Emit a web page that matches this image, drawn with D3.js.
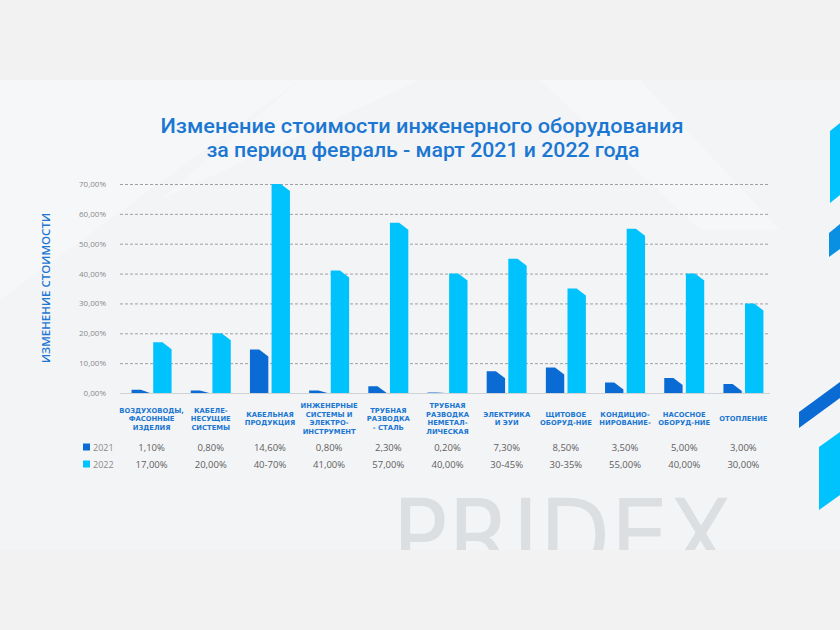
<!DOCTYPE html>
<html>
<head>
<meta charset="utf-8">
<script src="https://cdn.jsdelivr.net/npm/d3@7"></script>
<style>
  html, body { margin: 0; padding: 0; background: #f2f2f2; }
  svg { display: block; }
</style>
</head>
<body>
<svg id="chart" width="840" height="630"></svg>
<script>
// data
var categories = [
    ["ВОЗДУХОВОДЫ,", "ФАСОННЫЕ", "ИЗДЕЛИЯ"],
    ["КАБЕЛЕ-", "НЕСУЩИЕ", "СИСТЕМЫ"],
    ["КАБЕЛЬНАЯ", "ПРОДУКЦИЯ"],
    ["ИНЖЕНЕРНЫЕ", "СИСТЕМЫ И", "ЭЛЕКТРО-", "ИНСТРУМЕНТ"],
    ["ТРУБНАЯ", "РАЗВОДКА", "- СТАЛЬ"],
    ["ТРУБНАЯ", "РАЗВОДКА", "НЕМЕТАЛ-", "ЛИЧЕСКАЯ"],
    ["ЭЛЕКТРИКА", "И ЭУИ"],
    ["ЩИТОВОЕ", "ОБОРУД-НИЕ"],
    ["КОНДИЦИО-", "НИРОВАНИЕ-"],
    ["НАСОСНОЕ", "ОБОРУД-НИЕ"],
    ["ОТОПЛЕНИЕ"]
];
var years = ["2021", "2022"];
var values2021 = [1.1, 0.8, 14.6, 0.8, 2.3, 0.2, 7.3, 8.5, 3.5, 5.0, 3.0];
var values2022 = [17, 20, 70, 41, 57, 40, 45, 35, 55, 40, 30];
var labels2021 = ["1,10%", "0,80%", "14,60%", "0,80%", "2,30%", "0,20%", "7,30%", "8,50%", "3,50%", "5,00%", "3,00%"];
var labels2022 = ["17,00%", "20,00%", "40-70%", "41,00%", "57,00%", "40,00%", "30-45%", "30-35%", "55,00%", "40,00%", "30,00%"];
var yTicks = [0, 10, 20, 30, 40, 50, 60, 70];

var colors = { "2021": "#0a6bd4", "2022": "#00c3fd" };
var blue = "#1b77d2";

var svg = d3.select("#chart");

// background: page strip, slide, bottom strip
svg.append("rect").attr("width", 840).attr("height", 630).attr("fill", "#f2f2f2");
svg.append("rect").attr("y", 80).attr("width", 840).attr("height", 470).attr("fill", "#f3f4f6");

// faint light facets on the slide
var facets = [
    [[0, 80], [60, 80], [0, 170]],
    [[60, 80], [300, 80], [0, 300], [0, 170]],
    [[300, 80], [420, 80], [160, 200]],
    [[540, 80], [640, 80], [780, 230], [700, 230]]
];
svg.selectAll("polygon.facet")
    .data(facets)
    .enter().append("polygon")
    .attr("class", "facet")
    .attr("points", function(d) { return d.join(" "); })
    .attr("fill", "#ffffff")
    .attr("opacity", 0.25);

// watermark, cut off at the slide edge
svg.append("clipPath").attr("id", "slideClip")
    .append("rect").attr("x", 0).attr("y", 80).attr("width", 840).attr("height", 470);
svg.append("text")
    .attr("clip-path", "url(#slideClip)")
    .attr("x", 392)
    .attr("y", 572)
    .attr("textLength", 340)
    .attr("lengthAdjust", "spacingAndGlyphs")
    .style("font-family", "'DejaVu Sans', sans-serif")
    .style("font-size", "101px")
    .style("fill", "#dcdfe2")
    .text("PRIDEX");

// right side decorations
var decos = [
    { c: "#00c3fd", p: [[830, 131], [840, 123], [840, 195], [830, 203]] },
    { c: "#0a90e2", p: [[829, 233], [840, 224], [840, 249], [829, 257]] },
    { c: "#0a6bd4", p: [[799, 412], [840, 382], [840, 398], [799, 428]] },
    { c: "#00c3fd", p: [[819, 447], [840, 432], [840, 495], [819, 510]] }
];
svg.selectAll("polygon.deco")
    .data(decos)
    .enter().append("polygon")
    .attr("class", "deco")
    .attr("points", function(d) { return d.p.join(" "); })
    .attr("fill", function(d) { return d.c; });

// title
var title = svg.append("text")
    .attr("text-anchor", "middle")
    .style("font-family", "Roboto, sans-serif")
    .style("font-weight", 500)
    .style("font-size", "20px")
    .style("fill", blue);
title.append("tspan").attr("x", 422).attr("y", 133)
    .attr("textLength", 523).attr("lengthAdjust", "spacingAndGlyphs")
    .text("Изменение стоимости инженерного оборудования");
title.append("tspan").attr("x", 423).attr("y", 157)
    .attr("textLength", 433).attr("lengthAdjust", "spacingAndGlyphs")
    .text("за период февраль - март 2021 и 2022 года");

// scales
var x0 = d3.scaleBand()
    .domain(d3.range(categories.length))
    .range([122, 773]);

var groupW = 40;
var x1 = d3.scaleBand()
    .domain(years)
    .range([0, groupW])
    .paddingInner(0.15);

var y = d3.scaleLinear()
    .domain([0, 70])
    .range([393, 184]);

function groupX(i) {
    return x0(i) + (x0.bandwidth() - groupW) / 2;
}

// gridlines + y labels
var grid = svg.append("g");
grid.selectAll("line")
    .data(yTicks)
    .enter().append("line")
    .attr("x1", 120)
    .attr("x2", 770)
    .attr("y1", function(d) { return y(d) + 0.5; })
    .attr("y2", function(d) { return y(d) + 0.5; })
    .style("stroke", function(d) { return d === 0 ? "#cfd2d6" : "#a0a0a0"; })
    .style("stroke-width", 1)
    .style("stroke-dasharray", function(d) { return d === 0 ? null : "3,2"; });

var yAxis = svg.append("g")
    .attr("transform", "translate(106,0)")
    .call(d3.axisLeft(y)
        .tickValues(yTicks)
        .tickSize(0)
        .tickPadding(0)
        .tickFormat(function(d) { return d3.format(".2f")(d).replace(".", ",") + "%"; }));
yAxis.select(".domain").remove();
yAxis.selectAll("text")
    .style("font-family", "'Open Sans', sans-serif")
    .style("font-size", "8px")
    .style("fill", "#8a8a8a");

// y title
svg.append("text")
    .attr("transform", "translate(50,288) rotate(-90)")
    .attr("text-anchor", "middle")
    .attr("textLength", 150)
    .attr("lengthAdjust", "spacingAndGlyphs")
    .style("font-family", "'Open Sans', sans-serif")
    .style("font-weight", 600)
    .style("font-size", "11px")
    .style("fill", blue)
    .text("ИЗМЕНЕНИЕ СТОИМОСТИ");

// bars with a bevelled top-right corner
function barPath(x, w, v) {
    var top = y(v), bottom = y(0);
    var h = bottom - top;
    var cutX = w * 0.5;
    var cutY = Math.min(7, h);
    return "M" + x + "," + bottom +
        "L" + x + "," + top +
        "L" + (x + w - cutX) + "," + top +
        "L" + (x + w) + "," + (top + cutY) +
        "L" + (x + w) + "," + bottom + "Z";
}

var bars = [];
categories.forEach(function(c, i) {
    bars.push({ i: i, year: "2021", v: values2021[i] });
    bars.push({ i: i, year: "2022", v: values2022[i] });
});

svg.append("g").selectAll("path")
    .data(bars)
    .enter().append("path")
    .attr("d", function(d) { return barPath(groupX(d.i) + x1(d.year), x1.bandwidth(), d.v); })
    .attr("fill", function(d) { return colors[d.year]; });

// category labels
var catG = svg.append("g");
categories.forEach(function(lines, i) {
    var cx = x0(i) + x0.bandwidth() / 2;
    var lh = 8.5;
    var startY = 421 - (lines.length - 1) * lh / 2;
    var t = catG.append("text")
        .attr("text-anchor", "middle")
        .style("font-family", "'DejaVu Sans', sans-serif")
        .style("font-weight", "bold")
        .style("font-size", "6.8px")
        .style("fill", blue);
    lines.forEach(function(l, k) {
        t.append("tspan").attr("x", cx).attr("y", startY + k * lh).text(l);
    });
});

// table rows
var rows = [
    { year: "2021", labels: labels2021, y: 451 },
    { year: "2022", labels: labels2022, y: 468 }
];
rows.forEach(function(r) {
    svg.append("rect")
        .attr("x", 83).attr("y", r.y - 7.5)
        .attr("width", 7).attr("height", 7)
        .attr("fill", colors[r.year]);
    svg.append("text")
        .attr("x", 93).attr("y", r.y)
        .style("font-family", "'Open Sans', sans-serif")
        .style("font-size", "9px")
        .style("fill", "#8a8a8a")
        .text(r.year);
    svg.append("g").selectAll("text")
        .data(r.labels)
        .enter().append("text")
        .attr("x", function(d, i) { return x0(i) + x0.bandwidth() / 2; })
        .attr("y", r.y)
        .attr("text-anchor", "middle")
        .style("font-family", "'Open Sans', sans-serif")
        .style("font-size", "9.5px")
        .style("fill", "#5e5e5e")
        .text(function(d) { return d; });
});
</script>
</body>
</html>
